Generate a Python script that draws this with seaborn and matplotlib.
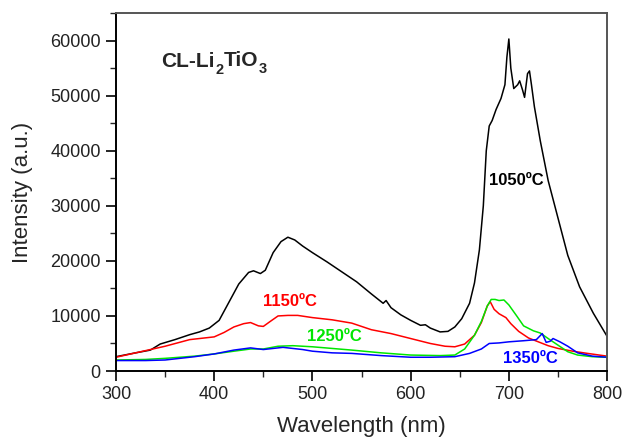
import pandas as pd
import matplotlib
matplotlib.use("Agg")
import matplotlib.pyplot as plt
import seaborn as sns
from matplotlib.ticker import MultipleLocator

sns.set_style("white")
plt.rcParams['font.family'] = ['Liberation Sans', 'DejaVu Sans']

# Data: CL spectra
wl_1050 = [300, 320, 335, 345, 360, 375, 385, 395, 405, 415, 425, 435, 440, 447, 452, 460,
           468, 475, 482, 490, 500, 515, 530, 545, 560, 572, 575, 580, 590, 600, 610, 615,
           620, 630, 638, 645, 652, 660, 665, 670, 674, 677, 680, 683, 687, 692, 696, 698,
           700, 702, 705, 709, 711, 714, 716, 719, 721, 723, 726, 732, 740, 750, 760, 772,
           786, 800]
int_1050 = [2600, 3300, 3800, 4900, 5700, 6600, 7100, 7800, 9200, 12500, 15800, 17900, 18200,
            17700, 18300, 21500, 23500, 24300, 23800, 22700, 21500, 19800, 18000, 16200, 14000,
            12300, 12800, 11500, 10200, 9200, 8300, 8400, 7800, 7100, 7200, 8000, 9500, 12300,
            16000, 22000, 30000, 40000, 44500, 45500, 47500, 49500, 52000, 57000, 60300, 55000,
            51300, 52000, 52700, 51000, 49700, 54000, 54500, 52000, 48000, 41800, 34600, 27800,
            21000, 15300, 10500, 6300]

wl_1150 = [300, 325, 350, 375, 400, 410, 420, 430, 437, 445, 450, 457, 465, 475, 485, 500,
           520, 540, 560, 580, 600, 620, 635, 645, 655, 665, 672, 678, 681, 685, 690, 697,
           702, 710, 720, 730, 740, 750, 765, 780, 800]
int_1150 = [2500, 3500, 4500, 5700, 6200, 7000, 8000, 8600, 8800, 8200, 8100, 9000, 10000,
            10100, 10100, 9700, 9300, 8700, 7500, 6800, 5900, 5000, 4500, 4400, 4900, 6500,
            8800, 11800, 12600, 11200, 10400, 9700, 8600, 7200, 6000, 5300, 4600, 4100, 3600,
            3200, 2700]

wl_1250 = [300, 330, 350, 380, 400, 420, 437, 450, 465, 480, 500, 520, 540, 570, 600, 630,
           645, 655, 665, 672, 678, 682, 686, 690, 695, 700, 708, 715, 725, 732, 740, 750,
           760, 770, 785, 800]
int_1250 = [2000, 2100, 2300, 2700, 3100, 3600, 4000, 4000, 4500, 4600, 4400, 4100, 3800,
            3300, 2900, 2800, 2900, 4000, 6500, 9000, 11800, 13000, 13000, 12800, 12900, 12000,
            10000, 8200, 7300, 6900, 5900, 4700, 3500, 2900, 2600, 2500]

wl_1350 = [300, 330, 350, 380, 400, 420, 437, 450, 470, 490, 500, 520, 540, 570, 600, 620,
           645, 660, 672, 680, 690, 700, 715, 728, 734, 738, 742, 745, 752, 760, 770, 785, 800]
int_1350 = [1900, 1900, 2000, 2600, 3100, 3800, 4200, 3900, 4300, 3900, 3600, 3300, 3200,
            2800, 2500, 2500, 2600, 3200, 4000, 5000, 5100, 5300, 5500, 5700, 6800, 5200, 5400,
            5900, 5300, 4500, 3300, 2700, 2500]

temps = ["1050ºC", "1150ºC", "1250ºC", "1350ºC"]
colors = ["black", "#ff0000", "#00e600", "#0000ff"]

frames = []
for t, wl, inten in zip(temps, [wl_1050, wl_1150, wl_1250, wl_1350],
                        [int_1050, int_1150, int_1250, int_1350]):
    frames.append(pd.DataFrame({"Wavelength": wl, "Intensity": inten, "T": t}))
df = pd.concat(frames, ignore_index=True)

fig = plt.figure(figsize=(6.22, 4.37), dpi=100)
ax = fig.add_axes([0.1865, 0.151, 0.7895, 0.819])

sns.lineplot(data=df, x="Wavelength", y="Intensity", hue="T", palette=colors,
             linewidth=1.1, legend=False, ax=ax, sort=False, estimator=None)

ax.set_xlim(300, 800)
ax.set_ylim(0, 65000)
ax.xaxis.set_major_locator(MultipleLocator(100))
ax.xaxis.set_minor_locator(MultipleLocator(50))
ax.yaxis.set_major_locator(MultipleLocator(10000))
ax.yaxis.set_minor_locator(MultipleLocator(5000))
ax.tick_params(which='major', direction='out', length=7, width=1.2, labelsize=13,
               pad=4, colors='black', labelcolor='#222222', bottom=True, left=True)
ax.tick_params(which='minor', direction='out', length=4, width=1.0, bottom=True, left=True)

ax.set_xlabel("Wavelength (nm)", fontsize=16, labelpad=9)
ax.set_ylabel("Intensity (a.u.)", fontsize=16, labelpad=12)

for s in ["left", "bottom"]:
    ax.spines[s].set_color("black")
    ax.spines[s].set_linewidth(1.4)
for s in ["top", "right"]:
    ax.spines[s].set_color("#555555")
    ax.spines[s].set_linewidth(1.4)

# sample name with deep (Origin-style) subscripts
t1 = ax.text(346, 55300, "CL-Li", fontsize=15, fontweight='bold', va='baseline', ha='left')
t2 = ax.annotate("2", xy=(1, 0), xycoords=t1, xytext=(0.3, -2.3), textcoords='offset points',
                 fontsize=10.5, fontweight='bold', va='baseline', ha='left')
t3 = ax.annotate("TiO", xy=(1, 0), xycoords=t2, xytext=(0.3, 7.6), textcoords='offset points',
                 fontsize=15, fontweight='bold', va='baseline', ha='left')
ax.annotate("3", xy=(1, 0), xycoords=t3, xytext=(0.3, -2.3), textcoords='offset points',
            fontsize=10.5, fontweight='bold', va='baseline', ha='left')

label_pos = [(680, 34600), (450, 12700), (494, 6200), (694, 2300)]
for t, c, (x, y) in zip(temps, colors, label_pos):
    ax.text(x, y, t, color=c, fontsize=12, fontweight='bold', va='center', ha='left')

fig.savefig("out.png", dpi=100)
